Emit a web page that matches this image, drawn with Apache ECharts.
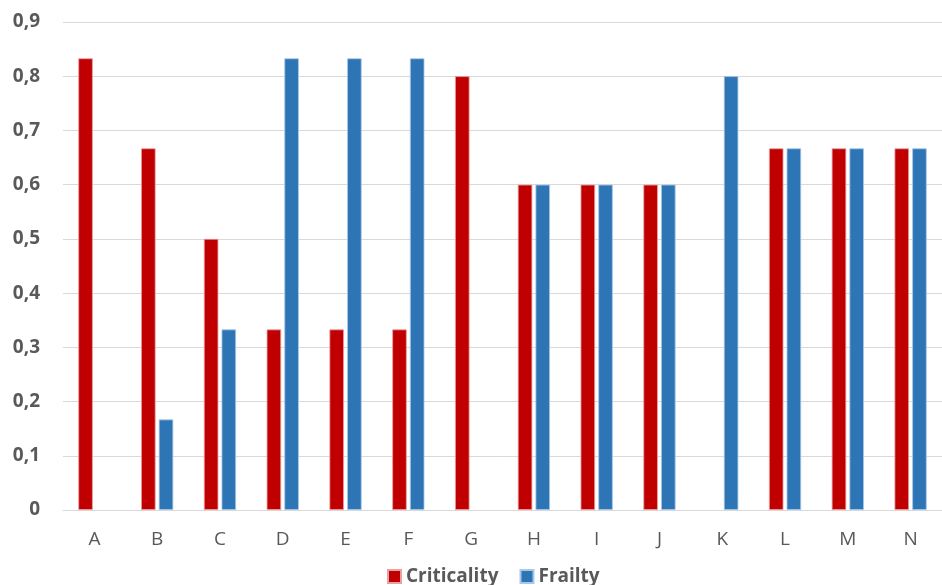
<!DOCTYPE html>
<html>
<head>
<meta charset="utf-8">
<script src="https://cdn.jsdelivr.net/npm/echarts@6/dist/echarts.min.js"></script>
<style>html,body{margin:0;padding:0;background:#fff;}#c{width:942px;height:585px;}</style>
</head>
<body>
<div id="c"></div>
<script>
var categories = ['A','B','C','D','E','F','G','H','I','J','K','L','M','N'];
var criticality = [0.833,0.667,0.5,0.333,0.333,0.333,0.8,0.6,0.6,0.6,null,0.667,0.667,0.667];
var frailty = [null,0.167,0.333,0.833,0.833,0.833,null,0.6,0.6,0.6,0.8,0.667,0.667,0.667];
var yTicks = [0,0.1,0.2,0.3,0.4,0.5,0.6,0.7,0.8,0.9];

var chart = echarts.init(document.getElementById('c'));
chart.setOption({
  animation: false,
  grid: {left: 63, top: 22, width: 886, height: 488, containLabel: false},
  legend: {
    top: 562, left: 382, itemWidth: 13, itemHeight: 13, itemGap: 21,
    icon: 'rect',
    textStyle: {fontFamily: 'Open Sans', fontWeight: 'bold', fontSize: 19, color: '#595959'},
    data: ['Criticality','Frailty']
  },
  xAxis: {
    type: 'category', data: categories,
    axisLine: {lineStyle: {color: '#d9d9d9', width: 1}},
    axisTick: {show: false},
    axisLabel: {fontFamily: 'Open Sans', fontSize: 19, color: '#595959', margin: 20}
  },
  yAxis: {
    type: 'value', min: 0, max: 0.9, interval: 0.1,
    axisLine: {show: false}, axisTick: {show: false},
    splitLine: {lineStyle: {color: '#d9d9d9', width: 1}},
    axisLabel: {
      fontFamily: 'Open Sans', fontWeight: 'bold', fontSize: 19, color: '#595959', margin: 23,
      formatter: function(v){
        var t = yTicks.find(function(x){return Math.abs(x - v) < 1e-9;});
        return t === 0 ? '0' : String(+(t !== undefined ? t : v).toFixed(1)).replace('.', ',');
      }
    }
  },
  series: [
    {name: 'Criticality', type: 'bar', data: criticality, barWidth: 14.5, barGap: '22%',
     itemStyle: {color: '#C00000', borderColor: '#e8a0a0', borderWidth: 0.8}},
    {name: 'Frailty', type: 'bar', data: frailty, barWidth: 14.5, barGap: '22%',
     itemStyle: {color: '#2E75B6', borderColor: '#a9c8e8', borderWidth: 0.8}}
  ]
});
</script>
</body>
</html>
